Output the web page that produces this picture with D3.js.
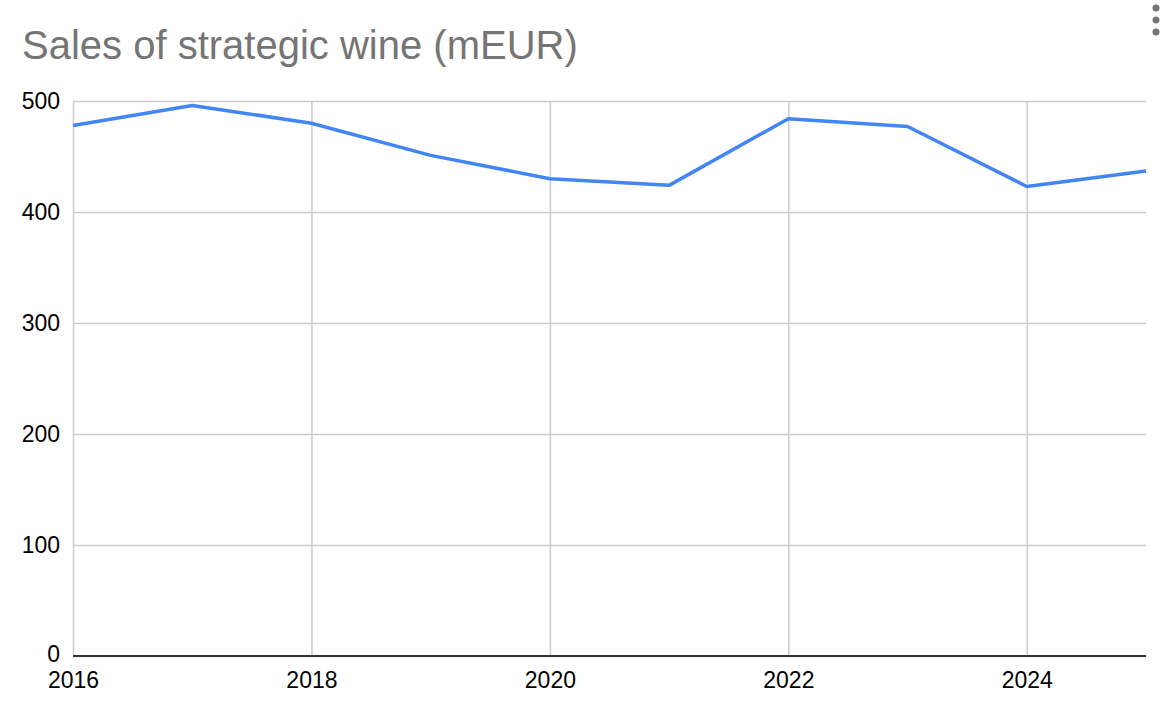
<!DOCTYPE html>
<html>
<head>
<meta charset="utf-8">
<script src="https://cdn.jsdelivr.net/npm/d3@7"></script>
<style>
  html, body { margin: 0; padding: 0; background: #fff; }
  svg { display: block; font-family: Arial, "Liberation Sans", sans-serif; }
</style>
</head>
<body>
<svg id="chart" width="1166" height="714"></svg>
<script>
const years = [2016, 2017, 2018, 2019, 2020, 2021, 2022, 2023, 2024, 2025];
const sales = [478, 496, 480, 451, 430, 424, 484, 477, 423, 437];
const yTicks = [0, 100, 200, 300, 400, 500];
const xTicks = [2016, 2018, 2020, 2022, 2024];
const title = "Sales of strategic wine (mEUR)";

const svg = d3.select("#chart");
const m = { left: 73, right: 1146, top: 101, bottom: 656 };

const x = d3.scaleLinear().domain([2016, 2025]).range([m.left, m.right]);
const y = d3.scaleLinear().domain([0, 500]).range([m.bottom, m.top]);

// title
svg.append("text")
  .attr("x", 22).attr("y", 59)
  .attr("font-size", 40)
  .attr("fill", "#757575")
  .text(title);

// menu dots
svg.append("g").selectAll("circle").data([0, 1, 2]).join("circle")
  .attr("cx", 1156).attr("cy", d => 8 + d * 12).attr("r", 3.5)
  .attr("fill", "#757575");

// horizontal gridlines
const yAxis = d3.axisLeft(y).tickValues(yTicks).tickSize(-(m.right - m.left)).tickPadding(13).tickFormat(d3.format("d"));
const gy = svg.append("g").attr("transform", `translate(${m.left},0)`).call(yAxis);
gy.select(".domain").remove();
gy.selectAll(".tick line").attr("stroke", "#cccccc").attr("stroke-width", 1.5);
gy.selectAll(".tick text").attr("font-size", 23).attr("fill", "#000").attr("font-family", "Arial, 'Liberation Sans', sans-serif");
// nudge the "0" label up a little so it clears the first year label
gy.selectAll(".tick text").filter(d => d === 0).attr("y", -2);

// vertical gridlines
const xAxis = d3.axisBottom(x).tickValues(xTicks).tickSize(-(m.bottom - m.top)).tickPadding(16).tickFormat(d3.format("d"));
const gx = svg.append("g").attr("transform", `translate(0,${m.bottom})`).call(xAxis);
gx.select(".domain").remove();
gx.selectAll(".tick line").attr("stroke", "#cccccc").attr("stroke-width", 1.5);
gx.selectAll(".tick text").attr("font-size", 23).attr("fill", "#000").attr("font-family", "Arial, 'Liberation Sans', sans-serif");

// baseline
svg.append("line")
  .attr("x1", m.left).attr("x2", m.right)
  .attr("y1", y(0)).attr("y2", y(0))
  .attr("stroke", "#333333").attr("stroke-width", 2);

// line
const line = d3.line().x((d, i) => x(years[i])).y(d => y(d));
svg.append("path")
  .datum(sales)
  .attr("d", line)
  .attr("fill", "none")
  .attr("stroke", "#4285F4")
  .attr("stroke-width", 3.5)
  .attr("stroke-linejoin", "round");
</script>
</body>
</html>
